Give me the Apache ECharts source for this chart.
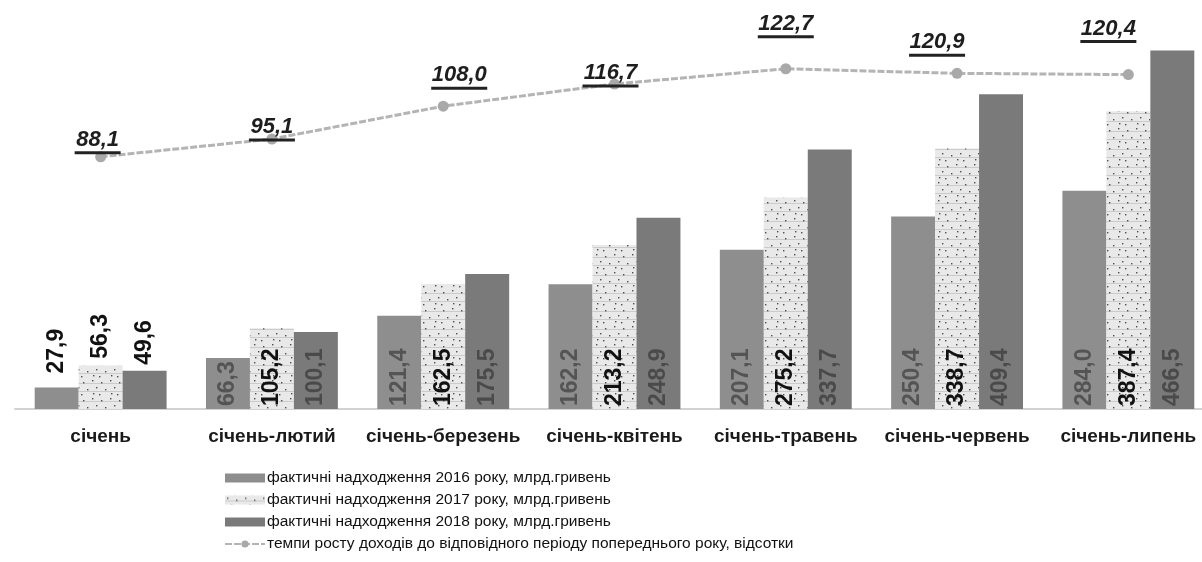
<!DOCTYPE html>
<html>
<head>
<meta charset="utf-8">
<script src="https://cdn.jsdelivr.net/npm/echarts@6/dist/echarts.min.js"></script>
<style>
html,body{margin:0;padding:0;background:#fff;overflow:hidden;}
#c{width:1214px;height:562px;}
</style>
</head>
<body>
<div id="c"></div>
<script>
// ---- data ----
var categories = ['січень', 'січень-лютий', 'січень-березень', 'січень-квітень', 'січень-травень', 'січень-червень', 'січень-липень'];
var income2016 = [27.9, 66.3, 121.4, 162.2, 207.1, 250.4, 284.0];
var income2017 = [56.3, 105.2, 162.5, 213.2, 275.2, 338.7, 387.4];
var income2018 = [49.6, 100.1, 175.5, 248.9, 337.7, 409.4, 466.5];
var growthRate = [88.1, 95.1, 108.0, 116.7, 122.7, 120.9, 120.4];
var seriesNames = [
  'фактичні надходження 2016 року, млрд.гривень',
  'фактичні надходження 2017 року, млрд.гривень',
  'фактичні надходження 2018 року, млрд.гривень',
  'темпи росту доходів до відповідного періоду попереднього року, відсотки'
];

// ---- styling helpers ----
var rateLabelOffsets = [[-3, 3], [0, 8], [16, -11], [-4, 9], [0, -25], [-20, -11], [-20, -26]];
function fmt(v) { return v.toFixed(1).replace('.', ','); }
var FONT = 'Liberation Sans, Arial, sans-serif';

// speckled fill pattern for 2017 bars
var pat = document.createElement('canvas');
pat.width = 18; pat.height = 18;
(function () {
  var g = pat.getContext('2d');
  g.fillStyle = '#e9e9e9';
  g.fillRect(0, 0, 18, 18);
  g.fillStyle = 'rgba(200,200,200,0.9)';
  g.fillRect(0, 5, 18, 1);
  g.fillRect(0, 13, 18, 1);
  g.fillStyle = 'rgba(25,25,25,0.75)';
  var dots = [[2, 2], [11, 4], [6, 9], [15, 11], [3, 15], [9, 16]];
  dots.forEach(function (d) { g.fillRect(d[0], d[1], 1.4, 1.4); });
})();

function barData(values, firstDist) {
  return values.map(function (v, i) {
    if (i === 0) {
      return { value: v, label: { position: 'top', color: '#111', distance: firstDist } };
    }
    return v;
  });
}

function barLabel(color) {
  return {
    show: true,
    position: 'insideBottom',
    rotate: 90,
    align: 'left',
    verticalAlign: 'middle',
    distance: 3,
    color: color,
    fontFamily: FONT,
    fontWeight: 'bold',
    fontSize: 23,
    formatter: function (p) { return fmt(p.value); }
  };
}

var chart = echarts.init(document.getElementById('c'), null, { renderer: 'canvas' });
chart.setOption({
  animation: false,
  backgroundColor: '#ffffff',
  grid: { left: 15, right: 0, top: 40, bottom: 153, containLabel: false },
  legend: {
    orient: 'vertical',
    left: 224,
    top: 470,
    padding: 0,
    itemWidth: 40,
    itemHeight: 9,
    itemGap: 6,
    data: [
      { name: seriesNames[0], icon: 'rect' },
      { name: seriesNames[1], icon: 'rect' },
      { name: seriesNames[2], icon: 'rect' },
      { name: seriesNames[3] }
    ],
    textStyle: { fontFamily: FONT, fontSize: 15.5, lineHeight: 15, color: '#111', padding: [0, 0, 0, -3] }
  },
  xAxis: {
    type: 'category',
    data: categories,
    axisTick: { show: false },
    axisLine: { lineStyle: { color: '#d2d2d2', width: 2 } },
    axisLabel: {
      margin: 18,
      color: '#1a1a1a',
      fontFamily: FONT,
      fontSize: 19,
      fontWeight: 'bold',
      interval: 0
    },
    splitLine: { show: false }
  },
  yAxis: [
    { type: 'value', min: 0, max: 480, show: false, splitLine: { show: false } },
    { type: 'value', min: -11, max: 134, show: false, splitLine: { show: false } }
  ],
  series: [
    {
      name: seriesNames[0],
      type: 'bar',
      data: barData(income2016, 14),
      barGap: '0%',
      barCategoryGap: '23%',
      itemStyle: { color: '#8e8e8e' },
      label: barLabel('#545454')
    },
    {
      name: seriesNames[1],
      type: 'bar',
      data: barData(income2017, 7),
      barGap: '0%',
      barCategoryGap: '23%',
      itemStyle: { color: { image: pat, repeat: 'repeat' } },
      label: barLabel('#111')
    },
    {
      name: seriesNames[2],
      type: 'bar',
      data: barData(income2018, 6),
      barGap: '0%',
      barCategoryGap: '23%',
      itemStyle: { color: '#7a7a7a' },
      label: barLabel('#4a4a4a')
    },
    {
      name: seriesNames[3],
      type: 'line',
      yAxisIndex: 1,
      data: growthRate.map(function (v, i) {
        return { value: v, label: { offset: rateLabelOffsets[i] } };
      }),
      symbol: 'circle',
      symbolSize: 11,
      lineStyle: { color: '#b4b4b4', width: 3, type: [7, 2] },
      itemStyle: { color: '#a9a9a9' },
      z: 5,
      label: {
        show: true,
        position: 'top',
        distance: 0,
        formatter: function (p) {
          var s = fmt(p.value);
          return '{v|' + s + '}\n{' + (s.length > 4 ? 'u5' : 'u4') + '| }';
        },
        rich: {
          v: { fontFamily: FONT, fontSize: 22, fontWeight: 'bold', fontStyle: 'italic', color: '#1e1e1e', lineHeight: 23, align: 'center' },
          u4: { width: 46, height: 3, lineHeight: 3, fontSize: 1, backgroundColor: '#222', align: 'center' },
          u5: { width: 56, height: 3, lineHeight: 3, fontSize: 1, backgroundColor: '#222', align: 'center' }
        }
      }
    }
  ]
});
</script>
</body>
</html>
